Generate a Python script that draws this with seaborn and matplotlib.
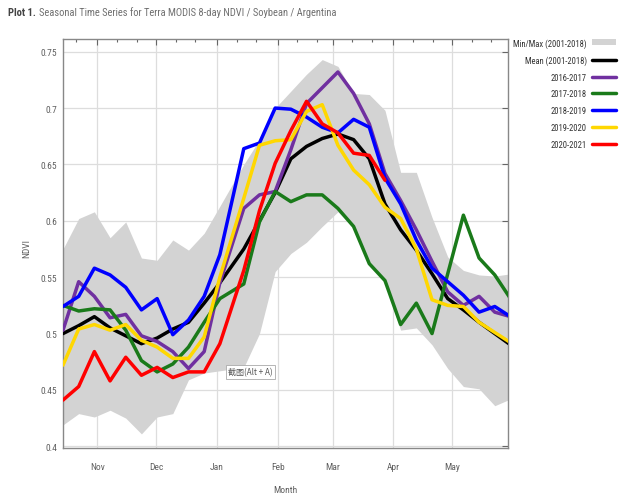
import numpy as np
import pandas as pd
import matplotlib
matplotlib.use("Agg")
import matplotlib.pyplot as plt
import seaborn as sns
from matplotlib import font_manager as fm
from matplotlib.lines import Line2D
from matplotlib.patches import Patch

# ---------------- data ----------------
# x positions: days relative to 1 November (8-day composites)
days = [-17.5, -9.5, -1.5, 6.5, 14.5, 22.5, 30.5, 38.5, 46.5, 54.5, 62.5,
        74.7, 82.7, 90.7, 98.7, 106.7, 114.7, 122.7, 130.7, 138.7, 146.7,
        154.7, 162.7, 170.7, 178.7, 186.7, 194.7, 202.7, 210.7]

minmax_low = [0.419, 0.429, 0.426, 0.432, 0.425, 0.411, 0.426, 0.429, 0.459, 0.465,
              0.467, 0.470, 0.500, 0.555, 0.571, 0.581, 0.595, 0.608, 0.594, 0.561,
              0.545, 0.503, 0.505, 0.490, 0.469, 0.453, 0.451, 0.436, 0.442]
minmax_high = [0.575, 0.602, 0.608, 0.585, 0.599, 0.567, 0.565, 0.583, 0.574, 0.589,
               0.613, 0.650, 0.672, 0.700, 0.715, 0.730, 0.743, 0.737, 0.713, 0.712,
               0.698, 0.643, 0.643, 0.603, 0.568, 0.556, 0.552, 0.551, 0.553]
mean_2001_2018 = [0.500, 0.507, 0.515, 0.505, 0.498, 0.491, 0.496, 0.504, 0.510, 0.527,
                  0.545, 0.575, 0.600, 0.625, 0.655, 0.666, 0.673, 0.677, 0.672, 0.655,
                  0.615, 0.592, 0.574, 0.553, 0.531, 0.521, 0.510, 0.500, 0.490]
s2016_2017 = [0.503, 0.546, 0.533, 0.514, 0.517, 0.498, 0.493, 0.484, 0.469, 0.484,
              0.545, 0.611, 0.623, 0.626, 0.663, 0.704, 0.718, 0.732, 0.713, 0.686,
              0.642, 0.618, 0.592, 0.564, 0.537, 0.525, 0.533, 0.519, 0.515]
s2017_2018 = [0.525, 0.520, 0.522, 0.521, 0.503, 0.476, 0.466, 0.473, 0.488, 0.510,
              0.531, 0.544, 0.599, 0.626, 0.617, 0.623, 0.623, 0.611, 0.595, 0.562,
              0.547, 0.508, 0.527, 0.500, 0.553, 0.605, 0.567, 0.552, 0.531]
s2018_2019 = [0.524, 0.533, 0.558, 0.552, 0.541, 0.521, 0.531, 0.499, 0.512, 0.533,
              0.570, 0.664, 0.669, 0.700, 0.699, 0.692, 0.683, 0.678, 0.690, 0.683,
              0.638, 0.615, 0.583, 0.558, 0.546, 0.534, 0.519, 0.524, 0.515]
s2019_2020 = [0.472, 0.504, 0.508, 0.503, 0.508, 0.494, 0.488, 0.478, 0.478, 0.497,
              0.550, 0.620, 0.667, 0.671, 0.672, 0.697, 0.703, 0.667, 0.645, 0.632,
              0.612, 0.602, 0.575, 0.530, 0.525, 0.524, 0.510, 0.501, 0.492]
s2020_2021 = [0.441, 0.453, 0.484, 0.458, 0.479, 0.463, 0.470, 0.461, 0.466, 0.466,
              0.491, 0.556, 0.609, 0.651, 0.680, 0.706, 0.686, 0.678, 0.660, 0.658,
              0.636]

season_names = ["Mean (2001-2018)", "2016-2017", "2017-2018", "2018-2019",
                "2019-2020", "2020-2021"]
season_values = [mean_2001_2018, s2016_2017, s2017_2018, s2018_2019,
                 s2019_2020, s2020_2021]
season_colors = ["#000000", "#7030a0", "#1a7a1a", "#0000ff", "#ffd700", "#ff0000"]
band_label = "Min/Max (2001-2018)"
band_color = "#d3d3d3"

month_labels = ["Nov", "Dec", "Jan", "Feb", "Mar", "Apr", "May"]
month_days = [0, 30, 61, 92, 120, 151, 181]
minor_days = [-11, 10, 20, 40, 50, 71, 81, 102, 112, 130, 140, 161, 171, 191, 201]
y_ticks = [0.4, 0.45, 0.5, 0.55, 0.6, 0.65, 0.7, 0.75]
y_ticklabels = ["0.4", "0.45", "0.5", "0.55", "0.6", "0.65", "0.7", "0.75"]

# ---------------- style ----------------
sns.set_style("white")
fonts = fm.fontManager.ttflist
names = {f.name for f in fonts}
stretch = "normal"
condensed = True
if "Liberation Sans Narrow" in names:
    base_font = "Liberation Sans Narrow"
elif "Roboto Condensed" in names:
    base_font = "Roboto Condensed"
elif any(f.name == "DejaVu Sans" and str(f.stretch) in ("condensed", "semi-condensed", "75", "87")
         for f in fonts):
    base_font = "DejaVu Sans"
    stretch = "condensed"
else:
    base_font = "Liberation Sans"
    condensed = False
plt.rcParams["font.family"] = [base_font, "DejaVu Sans"]
plt.rcParams["font.stretch"] = stretch
k = 1.0 if condensed else 0.88
fs_tick = 6.8 * k
fs_leg = 6.2 * k
fs_title = 7.6 * k
txt_color = "#606060"

rows = []
for name, vals in zip(season_names, season_values):
    for d, v in zip(days, vals):
        rows.append({"day": d, "ndvi": v, "season": name})
df = pd.DataFrame(rows)

fig = plt.figure(figsize=(6.26, 5.02), dpi=100)
ax = fig.add_axes([63.3 / 626, 1 - 449 / 502, (508.3 - 63.3) / 626, (449 - 39.5) / 502])

ax.fill_between(days, minmax_low, minmax_high, color=band_color, linewidth=0, zorder=1)
sns.lineplot(data=df, x="day", y="ndvi", hue="season", hue_order=season_names,
             palette=dict(zip(season_names, season_colors)), linewidth=2.5,
             legend=False, sort=False, ax=ax, zorder=3)

ax.set_xlim(-17.35, 209.6)
ax.set_ylim(0.3985, 0.7617)
ax.set_xticks(month_days)
ax.set_xticklabels(month_labels)
ax.set_xticks(minor_days, minor=True)
ax.set_yticks(y_ticks)
ax.set_yticklabels(y_ticklabels)
ax.grid(True, which="major", color="#dddddd", linewidth=0.9, zorder=0)
ax.set_axisbelow(True)
ax.tick_params(axis="both", which="both", direction="in", top=True, right=True,
               colors="#666666", labelcolor=txt_color, labelsize=fs_tick)
ax.tick_params(axis="both", which="major", length=4.5, width=0.8)
ax.tick_params(axis="both", which="minor", length=2.5, width=0.8)
ax.tick_params(axis="x", which="major", pad=10)
ax.tick_params(axis="y", which="major", pad=4.5)
for sp in ax.spines.values():
    sp.set_color("#888888")
    sp.set_linewidth(1.0)

ax.set_xlabel("Month", fontsize=fs_tick, color=txt_color, labelpad=10)
ax.set_ylabel("NDVI", fontsize=fs_tick, color=txt_color)
ax.yaxis.set_label_coords(-0.072, 0.49)

# legend
handles = [Patch(facecolor=band_color, edgecolor="none", label=band_label)]
for name, col in zip(season_names, season_colors):
    handles.append(Line2D([], [], color=col, linewidth=2.5, label=name))
leg = ax.legend(handles=handles, loc="upper right", bbox_to_anchor=(616 / 626, 1 - 39 / 502),
                bbox_transform=fig.transFigure, frameon=False, markerfirst=False,
                fontsize=fs_leg, handlelength=2.8, handletextpad=0.6, labelspacing=0.9,
                borderaxespad=0, borderpad=0)
for t in leg.get_texts():
    t.set_color("#333333")

# title
fig.canvas.draw()
r = fig.canvas.get_renderer()
t1 = fig.text(8 / 626, 1 - 13 / 502, "Plot 1.", fontsize=fs_title, fontweight="bold",
              color="#444444", va="center", ha="left")
bb = t1.get_window_extent(renderer=r)
fig.text((bb.x1 + 3) / 626, 1 - 13 / 502,
         "Seasonal Time Series for Terra MODIS 8-day NDVI / Soybean / Argentina",
         fontsize=fs_title, color="#707070", va="center", ha="left")

# screenshot-tool tooltip seen in the reference (pixel position from top-left)
ax.text(250.5, 502 - 373, "截图(Alt + A)", transform=None, fontsize=5.8, color="#555555",
        ha="center", va="center", family=["Noto Sans CJK SC", "DejaVu Sans"],
        bbox=dict(boxstyle="square,pad=0.3", facecolor="white", edgecolor="#aaaaaa",
                  linewidth=0.6), zorder=6)

fig.savefig("out.png", dpi=100)
